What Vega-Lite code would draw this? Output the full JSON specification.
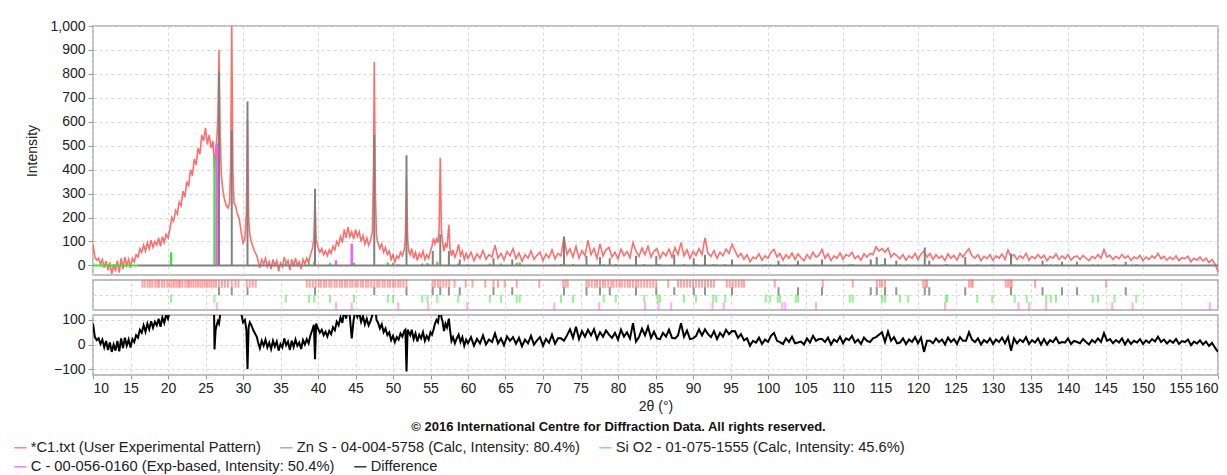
{
"$schema": "https://vega.github.io/schema/vega-lite/v6.json",
"padding": {"left": 13, "top": 18, "right": 0, "bottom": 0},
"spacing": 5,
"bounds": "flush",
"config": {
 "font": "Liberation Sans",
 "view": {"stroke": "#aaaaaa", "strokeWidth": 1.5},
 "axis": {"labelFont": "Liberation Sans", "labelFontSize": 14, "labelColor": "#222222", "titleFont": "Liberation Sans", "titleFontSize": 14, "titleFontWeight": "normal", "titleColor": "#222222", "gridColor": "#d6d6d6", "gridDash": [3, 3], "gridWidth": 1, "domain": false, "tickColor": "#999999", "tickSize": 5, "labelPadding": 3, "labelOverlap": false},
 "legend": {"orient": "none", "direction": "horizontal", "symbolType": "stroke", "symbolSize": 150, "symbolStrokeWidth": 1.2, "labelFont": "Liberation Sans", "labelFontSize": 14.7, "labelColor": "#222222", "labelLimit": 1000, "labelOffset": 3, "columnPadding": 16, "padding": 0},
 "title": {"font": "Liberation Sans"}
},
"resolve": {"scale": {"color": "shared", "stroke": "shared"}},
"datasets": {
"main": [
{"t":10,"e":88,"d":85},{"t":10.25,"e":35,"d":30},{"t":10.5,"e":22,"d":18},{"t":10.75,"e":30,"d":25},{"t":11,"e":5,"d":2},{"t":11.25,"e":25,"d":20},{"t":11.5,"e":-10,"d":-12},{"t":11.75,"e":18,"d":14},{"t":12,"e":-20,"d":-22},{"t":12.25,"e":12,"d":8},{"t":12.5,"e":-35,"d":-30},{"t":12.75,"e":5,"d":0},{"t":13,"e":-25,"d":-25},{"t":13.25,"e":20,"d":15},{"t":13.5,"e":-30,"d":-28},{"t":13.75,"e":30,"d":25},{"t":14,"e":-15,"d":-15},{"t":14.25,"e":35,"d":28},{"t":14.5,"e":0,"d":-5},{"t":14.75,"e":25,"d":20},{"t":15,"e":-10,"d":-12},{"t":15.25,"e":30,"d":22},{"t":15.5,"e":15,"d":10},{"t":15.75,"e":45,"d":38},{"t":16,"e":35,"d":28},{"t":16.25,"e":70,"d":60},{"t":16.5,"e":55,"d":48},{"t":16.75,"e":85,"d":78},{"t":17,"e":60,"d":52},{"t":17.25,"e":95,"d":85},{"t":17.5,"e":70,"d":62},{"t":17.75,"e":105,"d":95},{"t":18,"e":75,"d":68},{"t":18.25,"e":100,"d":92},{"t":18.5,"e":85,"d":78},{"t":18.75,"e":115,"d":105},{"t":19,"e":80,"d":72},{"t":19.25,"e":120,"d":110},{"t":19.5,"e":95,"d":88},{"t":19.75,"e":130,"d":120},
{"t":20,"e":115,"d":105},{"t":20.25,"e":150,"d":140},{"t":20.5,"e":200,"d":140},{"t":20.75,"e":185,"d":175},{"t":21,"e":230,"d":220},{"t":21.25,"e":215,"d":205},{"t":21.5,"e":265,"d":255},{"t":21.75,"e":250,"d":240},{"t":22,"e":310,"d":300},{"t":22.25,"e":285,"d":275},{"t":22.5,"e":350,"d":340},{"t":22.75,"e":330,"d":320},{"t":23,"e":400,"d":390},{"t":23.25,"e":375,"d":365},{"t":23.5,"e":445,"d":435},{"t":23.75,"e":420,"d":410},{"t":24,"e":490,"d":480},{"t":24.25,"e":465,"d":455},{"t":24.5,"e":545,"d":535},{"t":24.75,"e":520,"d":510},{"t":25,"e":575,"d":565},{"t":25.25,"e":505,"d":495},{"t":25.5,"e":545,"d":535},{"t":25.75,"e":490,"d":480},{"t":26,"e":520,"d":510},
{"t":26.2,"e":400,"d":-20},{"t":26.35,"e":480,"d":60},{"t":26.5,"e":520,"d":80},{"t":26.65,"e":620,"d":95},{"t":26.8,"e":900,"d":85},{"t":26.95,"e":560,"d":120},{"t":27.1,"e":380,"d":200},{"t":27.3,"e":320,"d":300},{"t":27.5,"e":280,"d":270},{"t":27.75,"e":250,"d":240},{"t":28,"e":240,"d":230},{"t":28.2,"e":260,"d":250},{"t":28.35,"e":420,"d":300},{"t":28.5,"e":1000,"d":430},{"t":28.65,"e":400,"d":300},{"t":28.8,"e":260,"d":250},{"t":29,"e":250,"d":240},{"t":29.25,"e":215,"d":205},{"t":29.5,"e":195,"d":185},{"t":29.75,"e":140,"d":130},{"t":30,"e":95,"d":90},{"t":30.25,"e":110,"d":100},{"t":30.45,"e":220,"d":60},{"t":30.6,"e":610,"d":-100},{"t":30.75,"e":200,"d":70},{"t":30.9,"e":130,"d":90},{"t":31.1,"e":100,"d":80},{"t":31.35,"e":75,"d":60},{"t":31.6,"e":55,"d":45},{"t":31.85,"e":40,"d":30},
{"t":32,"e":20,"d":10},{"t":32.25,"e":-10,"d":-15},{"t":32.5,"e":25,"d":15},{"t":32.75,"e":5,"d":-5},{"t":33,"e":30,"d":20},{"t":33.25,"e":-5,"d":-12},{"t":33.5,"e":15,"d":8},{"t":33.75,"e":-15,"d":-18},{"t":34,"e":25,"d":15},{"t":34.25,"e":0,"d":-8},{"t":34.5,"e":20,"d":12},{"t":34.75,"e":-25,"d":-25},{"t":35,"e":10,"d":2},{"t":35.25,"e":-5,"d":-12},{"t":35.5,"e":35,"d":25},{"t":35.75,"e":5,"d":-3},{"t":36,"e":20,"d":12},{"t":36.25,"e":-20,"d":-22},{"t":36.5,"e":25,"d":15},{"t":36.75,"e":-5,"d":-10},{"t":37,"e":30,"d":20},{"t":37.25,"e":0,"d":-5},{"t":37.5,"e":15,"d":8},{"t":37.75,"e":-15,"d":-18},{"t":38,"e":25,"d":18},{"t":38.25,"e":5,"d":0},{"t":38.5,"e":30,"d":22},{"t":38.75,"e":10,"d":5},{"t":39,"e":45,"d":38},{"t":39.25,"e":70,"d":60},{"t":39.45,"e":110,"d":80},{"t":39.6,"e":290,"d":-60},{"t":39.75,"e":110,"d":85},
{"t":40,"e":75,"d":65},{"t":40.25,"e":55,"d":48},{"t":40.5,"e":70,"d":60},{"t":40.75,"e":45,"d":38},{"t":41,"e":60,"d":52},{"t":41.25,"e":40,"d":32},{"t":41.5,"e":65,"d":55},{"t":41.75,"e":50,"d":42},{"t":42,"e":80,"d":70},{"t":42.25,"e":65,"d":58},{"t":42.5,"e":100,"d":92},{"t":42.75,"e":85,"d":78},{"t":43,"e":120,"d":110},{"t":43.25,"e":95,"d":88},{"t":43.5,"e":150,"d":140},{"t":43.75,"e":115,"d":105},{"t":44,"e":160,"d":150},{"t":44.25,"e":120,"d":112},{"t":44.5,"e":140,"d":25},{"t":44.75,"e":110,"d":100},{"t":45,"e":150,"d":140},{"t":45.25,"e":120,"d":112},{"t":45.5,"e":140,"d":130},{"t":45.75,"e":100,"d":92},{"t":46,"e":125,"d":115},{"t":46.25,"e":90,"d":82},{"t":46.5,"e":115,"d":105},{"t":46.75,"e":85,"d":78},{"t":47,"e":105,"d":95},{"t":47.25,"e":140,"d":120},{"t":47.4,"e":400,"d":200},{"t":47.5,"e":850,"d":300},{"t":47.65,"e":300,"d":150},{"t":47.8,"e":120,"d":100},
{"t":48,"e":95,"d":90},{"t":48.25,"e":70,"d":65},{"t":48.5,"e":90,"d":82},{"t":48.75,"e":55,"d":50},{"t":49,"e":75,"d":65},{"t":49.25,"e":45,"d":38},{"t":49.5,"e":60,"d":50},{"t":49.75,"e":25,"d":18},{"t":50,"e":45,"d":35},{"t":50.25,"e":15,"d":10},{"t":50.5,"e":40,"d":30},{"t":50.75,"e":30,"d":20},{"t":51,"e":55,"d":45},{"t":51.25,"e":40,"d":32},{"t":51.5,"e":65,"d":55},{"t":51.65,"e":120,"d":60},{"t":51.8,"e":370,"d":-110},{"t":51.95,"e":110,"d":60},{"t":52.1,"e":60,"d":50},{"t":52.3,"e":45,"d":38},{"t":52.5,"e":70,"d":60},{"t":52.75,"e":30,"d":22},{"t":53,"e":55,"d":45},{"t":53.25,"e":20,"d":12},{"t":53.5,"e":50,"d":40},{"t":53.75,"e":35,"d":25},{"t":54,"e":60,"d":50},{"t":54.25,"e":25,"d":15},{"t":54.5,"e":45,"d":35},{"t":54.75,"e":30,"d":20},{"t":55,"e":60,"d":50},{"t":55.2,"e":80,"d":40},{"t":55.4,"e":113,"d":60},{"t":55.6,"e":90,"d":85},{"t":55.8,"e":110,"d":100},{"t":56,"e":95,"d":90},{"t":56.15,"e":150,"d":120},{"t":56.3,"e":450,"d":300},{"t":56.45,"e":150,"d":110},{"t":56.6,"e":100,"d":95},{"t":56.8,"e":60,"d":55},{"t":57,"e":90,"d":85},{"t":57.2,"e":75,"d":70},{"t":57.45,"e":170,"d":105},{"t":57.6,"e":70,"d":60},{"t":57.8,"e":40,"d":15},{"t":58,"e":65,"d":30},{"t":58.25,"e":35,"d":5},{"t":58.5,"e":55,"d":25},{"t":58.75,"e":88,"d":40},{"t":59,"e":40,"d":10},{"t":59.25,"e":60,"d":30},{"t":59.5,"e":25,"d":-5},{"t":59.75,"e":50,"d":20},{"t":60,"e":30,"d":5},
{"t":60.4,"e":55,"d":30},{"t":60.8,"e":20,"d":-5},{"t":61.2,"e":48,"d":23},{"t":61.6,"e":30,"d":5},{"t":62,"e":62,"d":37},{"t":62.4,"e":25,"d":0},{"t":62.8,"e":45,"d":20},{"t":63.2,"e":35,"d":10},{"t":63.6,"e":85,"d":45},{"t":64,"e":30,"d":5},{"t":64.4,"e":50,"d":25},{"t":64.8,"e":22,"d":-3},{"t":65.2,"e":58,"d":33},{"t":65.6,"e":40,"d":15},{"t":66,"e":70,"d":30},{"t":66.4,"e":28,"d":3},{"t":66.8,"e":52,"d":27},{"t":67.2,"e":18,"d":-7},{"t":67.6,"e":45,"d":20},{"t":68,"e":30,"d":5},{"t":68.4,"e":60,"d":35},{"t":68.8,"e":25,"d":0},{"t":69.2,"e":42,"d":17},{"t":69.6,"e":55,"d":30},{"t":70,"e":20,"d":-5},{"t":70.4,"e":48,"d":23},{"t":70.8,"e":32,"d":7},{"t":71.2,"e":65,"d":40},{"t":71.6,"e":28,"d":3},{"t":72,"e":50,"d":25},{"t":72.4,"e":40,"d":25},{"t":72.8,"e":120,"d":15},{"t":73.2,"e":45,"d":37},{"t":73.6,"e":70,"d":62},{"t":74,"e":35,"d":27},{"t":74.4,"e":80,"d":72},{"t":74.8,"e":30,"d":22},{"t":75.2,"e":62,"d":54},{"t":75.6,"e":40,"d":32},{"t":76,"e":105,"d":60},{"t":76.4,"e":45,"d":37},{"t":76.8,"e":70,"d":62},{"t":77.2,"e":30,"d":22},{"t":77.6,"e":90,"d":50},{"t":78,"e":40,"d":32},{"t":78.4,"e":65,"d":57},{"t":78.8,"e":75,"d":40},{"t":79.2,"e":35,"d":27},{"t":79.6,"e":55,"d":47},
{"t":80,"e":28,"d":20},{"t":80.4,"e":68,"d":60},{"t":80.8,"e":40,"d":32},{"t":81.2,"e":58,"d":50},{"t":81.6,"e":32,"d":24},{"t":82,"e":95,"d":87},{"t":82.4,"e":60,"d":12},{"t":82.8,"e":38,"d":30},{"t":83.2,"e":72,"d":64},{"t":83.6,"e":45,"d":37},{"t":84,"e":80,"d":72},{"t":84.4,"e":35,"d":27},{"t":84.8,"e":60,"d":52},{"t":85.2,"e":70,"d":25},{"t":85.6,"e":30,"d":22},{"t":86,"e":55,"d":47},{"t":86.4,"e":40,"d":32},{"t":86.8,"e":68,"d":60},{"t":87.2,"e":35,"d":27},{"t":87.6,"e":75,"d":25},{"t":88,"e":45,"d":37},{"t":88.4,"e":95,"d":87},{"t":88.8,"e":40,"d":32},{"t":89.2,"e":65,"d":57},{"t":89.6,"e":30,"d":22},{"t":90,"e":58,"d":25},{"t":90.4,"e":42,"d":34},{"t":90.8,"e":70,"d":62},{"t":91.2,"e":45,"d":37},{"t":91.6,"e":115,"d":62},{"t":92,"e":50,"d":42},{"t":92.4,"e":38,"d":30},{"t":92.8,"e":62,"d":54},{"t":93.2,"e":30,"d":22},{"t":93.6,"e":55,"d":47},{"t":94,"e":40,"d":32},{"t":94.4,"e":68,"d":60},{"t":94.8,"e":50,"d":42},{"t":95.2,"e":88,"d":55},{"t":95.6,"e":62,"d":54},{"t":96,"e":35,"d":27},{"t":96.4,"e":50,"d":42},{"t":96.8,"e":25,"d":17},{"t":97.2,"e":45,"d":25},{"t":97.6,"e":15,"d":-5},{"t":98,"e":35,"d":15},{"t":98.4,"e":28,"d":8},{"t":98.8,"e":48,"d":28},{"t":99.2,"e":22,"d":2},{"t":99.6,"e":40,"d":20},
{"t":100,"e":30,"d":10},{"t":100.4,"e":55,"d":35},{"t":100.8,"e":67,"d":47},{"t":101.2,"e":35,"d":15},{"t":101.6,"e":50,"d":10},{"t":102,"e":22,"d":2},{"t":102.4,"e":45,"d":25},{"t":102.8,"e":30,"d":10},{"t":103.2,"e":52,"d":32},{"t":103.6,"e":25,"d":5},{"t":104,"e":48,"d":8},{"t":104.4,"e":32,"d":12},{"t":104.8,"e":20,"d":0},{"t":105.2,"e":45,"d":25},{"t":105.6,"e":28,"d":8},{"t":106,"e":55,"d":35},{"t":106.4,"e":35,"d":15},{"t":106.8,"e":42,"d":22},{"t":107.2,"e":67,"d":22},{"t":107.6,"e":30,"d":10},{"t":108,"e":48,"d":28},{"t":108.4,"e":20,"d":0},{"t":108.8,"e":40,"d":20},{"t":109.2,"e":30,"d":10},{"t":109.6,"e":52,"d":32},{"t":110,"e":25,"d":5},{"t":110.4,"e":45,"d":25},{"t":110.8,"e":38,"d":18},{"t":111.2,"e":55,"d":35},{"t":111.6,"e":28,"d":8},{"t":112,"e":40,"d":20},{"t":112.4,"e":22,"d":2},{"t":112.8,"e":48,"d":28},{"t":113.2,"e":35,"d":15},{"t":113.6,"e":50,"d":10},{"t":114,"e":45,"d":25},{"t":114.4,"e":77,"d":30},{"t":114.8,"e":60,"d":40},{"t":115.2,"e":70,"d":50},{"t":115.6,"e":55,"d":10},{"t":116,"e":72,"d":52},{"t":116.4,"e":35,"d":15},{"t":116.8,"e":50,"d":30},{"t":117.2,"e":40,"d":5},{"t":117.6,"e":28,"d":8},{"t":118,"e":45,"d":25},{"t":118.4,"e":22,"d":2},{"t":118.8,"e":40,"d":20},{"t":119.2,"e":30,"d":10},{"t":119.6,"e":50,"d":30},
{"t":120,"e":25,"d":5},{"t":120.4,"e":48,"d":28},{"t":120.8,"e":60,"d":-30},{"t":121.2,"e":35,"d":15},{"t":121.6,"e":50,"d":15},{"t":122,"e":25,"d":5},{"t":122.4,"e":45,"d":25},{"t":122.8,"e":30,"d":10},{"t":123.2,"e":40,"d":20},{"t":123.6,"e":20,"d":0},{"t":124,"e":48,"d":28},{"t":124.4,"e":30,"d":10},{"t":124.8,"e":42,"d":22},{"t":125.2,"e":22,"d":2},{"t":125.6,"e":50,"d":30},{"t":126,"e":35,"d":15},{"t":126.4,"e":55,"d":15},{"t":126.8,"e":70,"d":50},{"t":127.2,"e":40,"d":20},{"t":127.6,"e":30,"d":10},{"t":128,"e":45,"d":25},{"t":128.4,"e":20,"d":0},{"t":128.8,"e":38,"d":18},{"t":129.2,"e":28,"d":8},{"t":129.6,"e":45,"d":25},{"t":130,"e":22,"d":2},{"t":130.4,"e":40,"d":20},{"t":130.8,"e":30,"d":10},{"t":131.2,"e":48,"d":28},{"t":131.6,"e":25,"d":5},{"t":132,"e":64,"d":30},{"t":132.4,"e":35,"d":-25},{"t":132.8,"e":45,"d":25},{"t":133.2,"e":25,"d":5},{"t":133.6,"e":40,"d":20},{"t":134,"e":30,"d":10},{"t":134.4,"e":50,"d":30},{"t":134.8,"e":22,"d":2},{"t":135.2,"e":38,"d":18},{"t":135.6,"e":28,"d":8},{"t":136,"e":45,"d":25},{"t":136.4,"e":30,"d":0},{"t":136.8,"e":42,"d":22},{"t":137.2,"e":20,"d":0},{"t":137.6,"e":38,"d":18},{"t":138,"e":30,"d":10},{"t":138.4,"e":48,"d":28},{"t":138.8,"e":25,"d":5},{"t":139.2,"e":40,"d":10},{"t":139.6,"e":28,"d":8},
{"t":140,"e":45,"d":25},{"t":140.4,"e":22,"d":2},{"t":140.8,"e":35,"d":15},{"t":141.2,"e":40,"d":10},{"t":141.6,"e":25,"d":5},{"t":142,"e":42,"d":22},{"t":142.4,"e":30,"d":10},{"t":142.8,"e":20,"d":0},{"t":143.2,"e":38,"d":18},{"t":143.6,"e":28,"d":8},{"t":144,"e":45,"d":25},{"t":144.4,"e":30,"d":10},{"t":144.8,"e":66,"d":46},{"t":145.2,"e":35,"d":15},{"t":145.6,"e":42,"d":22},{"t":146,"e":25,"d":5},{"t":146.4,"e":38,"d":18},{"t":146.8,"e":28,"d":8},{"t":147.2,"e":45,"d":25},{"t":147.6,"e":30,"d":0},{"t":148,"e":40,"d":20},{"t":148.4,"e":22,"d":2},{"t":148.8,"e":35,"d":15},{"t":149.2,"e":28,"d":8},{"t":149.6,"e":42,"d":22},{"t":150,"e":20,"d":2},{"t":150.4,"e":35,"d":17},{"t":150.8,"e":25,"d":7},{"t":151.2,"e":40,"d":22},{"t":151.6,"e":30,"d":12},{"t":152,"e":50,"d":32},{"t":152.4,"e":28,"d":10},{"t":152.8,"e":38,"d":20},{"t":153.2,"e":22,"d":4},{"t":153.6,"e":35,"d":17},{"t":154,"e":25,"d":7},{"t":154.4,"e":40,"d":22},{"t":154.8,"e":20,"d":2},{"t":155.2,"e":32,"d":14},{"t":155.6,"e":28,"d":10},{"t":156,"e":38,"d":20},{"t":156.4,"e":15,"d":-3},{"t":156.8,"e":30,"d":12},{"t":157.2,"e":22,"d":4},{"t":157.6,"e":35,"d":17},{"t":158,"e":18,"d":0},{"t":158.4,"e":30,"d":12},{"t":158.8,"e":12,"d":-6},{"t":159.2,"e":25,"d":7},{"t":159.6,"e":5,"d":-13},{"t":160,"e":-25,"d":-30}
],
"peaks": [
{"s":"exp","t":16.6},{"s":"exp","t":16.9},{"s":"exp","t":17.3},{"s":"exp","t":17.6},{"s":"exp","t":17.9},{"s":"exp","t":18.3},{"s":"exp","t":18.6},{"s":"exp","t":18.8},{"s":"exp","t":19.2},{"s":"exp","t":19.5},{"s":"exp","t":19.9},{"s":"exp","t":20.2},{"s":"exp","t":20.5},{"s":"exp","t":20.8},{"s":"exp","t":21.1},{"s":"exp","t":21.4},{"s":"exp","t":21.6},{"s":"exp","t":21.9},{"s":"exp","t":22.3},{"s":"exp","t":22.6},{"s":"exp","t":22.8},{"s":"exp","t":23.1},{"s":"exp","t":23.4},{"s":"exp","t":23.7},{"s":"exp","t":24},{"s":"exp","t":24.3},{"s":"exp","t":24.6},{"s":"exp","t":24.9},{"s":"exp","t":25.2},{"s":"exp","t":25.5},{"s":"exp","t":25.8},{"s":"exp","t":26.1},{"s":"exp","t":26.4},{"s":"exp","t":26.8},{"s":"exp","t":27.2},{"s":"exp","t":27.6},{"s":"exp","t":28},{"s":"exp","t":28.5},{"s":"exp","t":29},{"s":"exp","t":29.4},{"s":"exp","t":30.5},{"s":"exp","t":30.9},{"s":"exp","t":31.3},{"s":"exp","t":31.7},
{"s":"exp","t":38.5},{"s":"exp","t":38.9},{"s":"exp","t":39.3},{"s":"exp","t":39.7},{"s":"exp","t":40.1},{"s":"exp","t":40.4},{"s":"exp","t":40.8},{"s":"exp","t":41.1},{"s":"exp","t":41.5},{"s":"exp","t":41.8},{"s":"exp","t":42.2},{"s":"exp","t":42.5},{"s":"exp","t":42.9},{"s":"exp","t":43.2},{"s":"exp","t":43.6},{"s":"exp","t":43.9},{"s":"exp","t":44.3},{"s":"exp","t":44.6},{"s":"exp","t":45},{"s":"exp","t":45.3},{"s":"exp","t":45.7},{"s":"exp","t":46},{"s":"exp","t":46.4},{"s":"exp","t":46.7},{"s":"exp","t":47.1},{"s":"exp","t":47.5},{"s":"exp","t":47.9},{"s":"exp","t":48.2},{"s":"exp","t":48.6},{"s":"exp","t":48.9},{"s":"exp","t":49.3},{"s":"exp","t":49.6},{"s":"exp","t":50},{"s":"exp","t":50.3},{"s":"exp","t":50.7},{"s":"exp","t":51},{"s":"exp","t":51.4},{"s":"exp","t":51.8},
{"s":"exp","t":55.3},{"s":"exp","t":55.6},{"s":"exp","t":56},{"s":"exp","t":56.3},{"s":"exp","t":56.7},{"s":"exp","t":57.1},{"s":"exp","t":57.5},{"s":"exp","t":58.2},{"s":"exp","t":59.7},{"s":"exp","t":60.6},{"s":"exp","t":62.3},{"s":"exp","t":63.4},{"s":"exp","t":64},{"s":"exp","t":64.9},{"s":"exp","t":66.5},{"s":"exp","t":69.5},{"s":"exp","t":72.7},{"s":"exp","t":73},{"s":"exp","t":73.3},
{"s":"exp","t":75.8},{"s":"exp","t":76.1},{"s":"exp","t":76.5},{"s":"exp","t":76.9},{"s":"exp","t":77.2},{"s":"exp","t":77.6},{"s":"exp","t":78},{"s":"exp","t":78.3},{"s":"exp","t":78.7},{"s":"exp","t":79.1},{"s":"exp","t":79.4},{"s":"exp","t":79.8},{"s":"exp","t":80.2},{"s":"exp","t":80.5},{"s":"exp","t":80.9},{"s":"exp","t":81.3},{"s":"exp","t":81.6},{"s":"exp","t":82},{"s":"exp","t":82.4},{"s":"exp","t":82.7},{"s":"exp","t":83.1},{"s":"exp","t":83.5},{"s":"exp","t":83.9},{"s":"exp","t":84.3},{"s":"exp","t":84.7},{"s":"exp","t":85.1},{"s":"exp","t":86.7},{"s":"exp","t":88},{"s":"exp","t":88.4},{"s":"exp","t":88.8},{"s":"exp","t":89.2},{"s":"exp","t":89.6},{"s":"exp","t":90},{"s":"exp","t":90.4},{"s":"exp","t":90.8},{"s":"exp","t":91.2},{"s":"exp","t":91.6},{"s":"exp","t":92},{"s":"exp","t":92.4},{"s":"exp","t":92.8},{"s":"exp","t":94.5},{"s":"exp","t":94.9},{"s":"exp","t":95.3},{"s":"exp","t":95.7},{"s":"exp","t":96.1},{"s":"exp","t":96.5},{"s":"exp","t":96.8},{"s":"exp","t":100.9},{"s":"exp","t":107.3},{"s":"exp","t":111.3},{"s":"exp","t":114.5},{"s":"exp","t":114.9},{"s":"exp","t":115.2},{"s":"exp","t":115.6},{"s":"exp","t":120.7},{"s":"exp","t":121},{"s":"exp","t":121.2},{"s":"exp","t":126.8},{"s":"exp","t":127.1},{"s":"exp","t":127.3},{"s":"exp","t":131.7},{"s":"exp","t":132},{"s":"exp","t":132.3},{"s":"exp","t":132.5},{"s":"exp","t":135.6},{"s":"exp","t":145.1},
{"s":"zns","t":26.8,"h":810},{"s":"zns","t":28.5,"h":565},{"s":"zns","t":30.6,"h":685},{"s":"zns","t":39.6,"h":320},{"s":"zns","t":47.5,"h":545},{"s":"zns","t":51.8,"h":460},{"s":"zns","t":55.3,"h":60},{"s":"zns","t":56.3,"h":130},{"s":"zns","t":57.45,"h":60},{"s":"zns","t":58.9,"h":25},{"s":"zns","t":63.4,"h":30},{"s":"zns","t":65.9,"h":25},{"s":"zns","t":72.8,"h":120},{"s":"zns","t":75.8,"h":40},{"s":"zns","t":77.6,"h":35},{"s":"zns","t":78.9,"h":30},{"s":"zns","t":82.4,"h":40},{"s":"zns","t":85.1,"h":40},{"s":"zns","t":87.5,"h":45},{"s":"zns","t":90.1,"h":30},{"s":"zns","t":91.6,"h":45},{"s":"zns","t":95.2,"h":25},{"s":"zns","t":101.4,"h":20},{"s":"zns","t":104,"h":20},{"s":"zns","t":107.2,"h":25},{"s":"zns","t":113.7,"h":25},{"s":"zns","t":114.5,"h":35},{"s":"zns","t":115.6,"h":30},{"s":"zns","t":117.1,"h":20},{"s":"zns","t":120.9,"h":75},{"s":"zns","t":121.5,"h":20},{"s":"zns","t":126.3,"h":35},{"s":"zns","t":132.4,"h":50},{"s":"zns","t":136.6,"h":20},{"s":"zns","t":139.2,"h":15},{"s":"zns","t":141.2,"h":15},{"s":"zns","t":147.7,"h":15},
{"s":"sio2","t":20.4,"h":55},{"s":"sio2","t":26.2,"h":460},{"s":"sio2","t":35.7,"h":10},{"s":"sio2","t":38.8,"h":10},{"s":"sio2","t":39.5,"h":15},{"s":"sio2","t":41.6,"h":10},{"s":"sio2","t":44.8,"h":12},{"s":"sio2","t":49.3,"h":12},{"s":"sio2","t":50,"h":10},{"s":"sio2","t":53.9,"h":8},{"s":"sio2","t":54.6,"h":10},{"s":"sio2","t":55.9,"h":15},{"s":"sio2","t":58.7,"h":8},{"s":"sio2","t":62.9,"h":8},{"s":"sio2","t":64.4,"h":8},{"s":"sio2","t":66.5,"h":10},{"s":"sio2","t":66.9,"h":12},{"s":"sio2","t":72.4,"h":6},{"s":"sio2","t":74,"h":6},{"s":"sio2","t":78.1,"h":5},{"s":"sio2","t":79.7,"h":6},{"s":"sio2","t":83.5,"h":6},{"s":"sio2","t":85.3,"h":5},{"s":"sio2","t":85.6,"h":5},{"s":"sio2","t":88.8,"h":5},{"s":"sio2","t":90.4,"h":5},{"s":"sio2","t":92.7,"h":5},{"s":"sio2","t":93.1,"h":5},{"s":"sio2","t":94.3,"h":5},{"s":"sio2","t":99.7,"h":4},{"s":"sio2","t":100.3,"h":4},{"s":"sio2","t":101.3,"h":4},{"s":"sio2","t":101.6,"h":4},{"s":"sio2","t":103.7,"h":4},{"s":"sio2","t":104,"h":4},{"s":"sio2","t":110.9,"h":5},{"s":"sio2","t":111.3,"h":5},{"s":"sio2","t":115.2,"h":5},{"s":"sio2","t":115.6,"h":5},{"s":"sio2","t":117.6,"h":4},{"s":"sio2","t":118.7,"h":4},{"s":"sio2","t":123.7,"h":5},{"s":"sio2","t":123.9,"h":5},{"s":"sio2","t":127.9,"h":4},{"s":"sio2","t":129.9,"h":4},{"s":"sio2","t":132.9,"h":4},{"s":"sio2","t":134.5,"h":4},{"s":"sio2","t":137.1,"h":4},{"s":"sio2","t":137.7,"h":4},{"s":"sio2","t":138.4,"h":4},{"s":"sio2","t":143.3,"h":4},{"s":"sio2","t":144,"h":4},{"s":"sio2","t":146.2,"h":5},{"s":"sio2","t":149.1,"h":5},
{"s":"c","t":26.5,"h":510},{"s":"c","t":42.4,"h":21},{"s":"c","t":44.5,"h":90},{"s":"c","t":50.7,"h":4},{"s":"c","t":54.7,"h":4},{"s":"c","t":59.9,"h":4},{"s":"c","t":71.5,"h":3},{"s":"c","t":77.5,"h":3},{"s":"c","t":83.6,"h":3},{"s":"c","t":85.4,"h":3},{"s":"c","t":87.1,"h":3},{"s":"c","t":92.6,"h":3},{"s":"c","t":94.1,"h":3},{"s":"c","t":101.9,"h":3},{"s":"c","t":102.3,"h":3},{"s":"c","t":106.4,"h":3},{"s":"c","t":123.6,"h":3},{"s":"c","t":133.4,"h":3},{"s":"c","t":134.8,"h":3},{"s":"c","t":137.1,"h":3},{"s":"c","t":145.9,"h":3},{"s":"c","t":148.6,"h":3},{"s":"c","t":158.9,"h":3}
]
},
"vconcat": [
{
 "width": 1125, "height": 249,
 "layer": [
  {
   "data": {"name": "main"},
   "mark": {"type": "line", "clip": true, "strokeWidth": 1.6, "opacity": 0.82},
   "encoding": {
    "x": {"field": "t", "type": "quantitative", "scale": {"domain": [10, 160], "nice": false, "zero": false}, "axis": {"values": [10,15,20,25,30,35,40,45,50,55,60,65,70,75,80,85,90,95,100,105,110,115,120,125,130,135,140,145,150,155,160], "grid": true, "labels": false, "ticks": false, "domain": false, "title": null}},
    "y": {"field": "e", "type": "quantitative", "scale": {"domain": [-40, 1000], "nice": false, "zero": false}, "axis": {"values": [0,100,200,300,400,500,600,700,800,900,1000], "format": ",d", "grid": true, "labelOverlap": false, "title": "Intensity", "titlePadding": 10}},
    "color": {"datum": "exp", "type": "nominal", "title": null, "scale": {"domain": ["exp","zns","sio2"], "range": ["#ff4d4d","#808080","#2ee82e"]},
     "legend": {"title": null, "orient": "none", "legendX": -80, "legendY": 414, "direction": "horizontal",
      "labelExpr": "datum.value=='exp'?'*C1.txt (User Experimental Pattern)':datum.value=='zns'?'Zn S - 04-004-5758 (Calc, Intensity: 80.4%)':'Si O2 - 01-075-1555 (Calc, Intensity: 45.6%)'"}}
   }
  },
  {
   "data": {"values": [{}]},
   "mark": {"type": "rule", "strokeWidth": 2},
   "encoding": {"x": {"datum": 10}, "x2": {"datum": 16},
    "y": {"datum": 0, "axis": {"values": [0,100,200,300,400,500,600,700,800,900,1000], "format": ",d", "grid": true, "labelOverlap": false, "title": "Intensity", "titlePadding": 10}},
    "color": {"datum": "sio2", "type": "nominal", "title": null}}
  },
  {
   "data": {"name": "peaks"},
   "transform": [{"filter": "datum.s=='sio2'"}],
   "mark": {"type": "rule", "strokeWidth": 2.2},
   "encoding": {"x": {"field": "t", "type": "quantitative"},
    "y": {"field": "h", "type": "quantitative", "axis": {"values": [0,100,200,300,400,500,600,700,800,900,1000], "format": ",d", "grid": true, "labelOverlap": false, "title": "Intensity", "titlePadding": 10}},
    "y2": {"datum": 0}, "color": {"field": "s", "type": "nominal", "title": null}}
  },
  {
   "data": {"name": "peaks"},
   "transform": [{"filter": "datum.s=='c'"}],
   "mark": {"type": "rule", "strokeWidth": 2.4},
   "encoding": {"x": {"field": "t", "type": "quantitative"},
    "y": {"field": "h", "type": "quantitative", "axis": {"values": [0,100,200,300,400,500,600,700,800,900,1000], "format": ",d", "grid": true, "labelOverlap": false, "title": "Intensity", "titlePadding": 10}},
    "y2": {"datum": 0},
    "stroke": {"field": "s", "type": "nominal", "title": null, "scale": {"domain": ["c","diff"], "range": ["#ff55ff","#000000"]},
     "legend": {"title": null, "orient": "none", "legendX": -80, "legendY": 433, "direction": "horizontal",
      "labelExpr": "datum.value=='c'?'C - 00-056-0160 (Exp-based, Intensity: 50.4%)':'Difference'"}}}
  },
  {
   "data": {"values": [{}]},
   "mark": {"type": "rule", "strokeWidth": 2},
   "encoding": {"x": {"datum": 16}, "x2": {"datum": 160},
    "y": {"datum": 0, "axis": {"values": [0,100,200,300,400,500,600,700,800,900,1000], "format": ",d", "grid": true, "labelOverlap": false, "title": "Intensity", "titlePadding": 10}},
    "color": {"datum": "zns", "type": "nominal", "title": null}}
  },
  {
   "data": {"name": "peaks"},
   "transform": [{"filter": "datum.s=='zns'"}],
   "mark": {"type": "rule", "strokeWidth": 2},
   "encoding": {"x": {"field": "t", "type": "quantitative"},
    "y": {"field": "h", "type": "quantitative", "axis": {"values": [0,100,200,300,400,500,600,700,800,900,1000], "format": ",d", "grid": true, "labelOverlap": false, "title": "Intensity", "titlePadding": 10}},
    "y2": {"datum": 0}, "color": {"field": "s", "type": "nominal", "title": null}}
  }
 ]
},
{
 "width": 1125, "height": 30,
 "data": {"name": "peaks"},
 "encoding": {
  "x": {"field": "t", "type": "quantitative", "scale": {"domain": [10, 160], "nice": false, "zero": false}, "axis": {"values": [10,15,20,25,30,35,40,45,50,55,60,65,70,75,80,85,90,95,100,105,110,115,120,125,130,135,140,145,150,155,160], "grid": true, "labels": false, "ticks": false, "domain": false, "title": null}},
  "y": {"field": "s", "type": "nominal", "scale": {"domain": ["exp","zns","sio2","c"], "paddingInner": 0, "paddingOuter": 0}, "axis": {"values": ["sio2"], "bandPosition": 0, "grid": true, "labels": false, "ticks": false, "domain": false, "title": null}}
 },
 "layer": [
  {
   "transform": [{"filter": "datum.s!='c'"}],
   "mark": {"type": "tick", "thickness": 2, "size": 8},
   "encoding": {
    "color": {"field": "s", "type": "nominal", "title": null},
    "opacity": {"condition": {"test": "datum.s=='zns'", "value": 0.85}, "value": 0.5}
   }
  },
  {
   "transform": [{"filter": "datum.s=='c'"}],
   "mark": {"type": "tick", "thickness": 2, "size": 8, "color": "#ff55ff", "opacity": 0.5}
  }
 ]
},
{
 "width": 1125, "height": 60,
 "data": {"name": "main"},
 "title": {"text": "© 2016 International Centre for Diffraction Data. All rights reserved.", "orient": "bottom", "anchor": "middle", "fontSize": 13, "fontWeight": "bold", "color": "#111111", "offset": 8, "dx": -37},
 "mark": {"type": "line", "clip": true, "strokeWidth": 2},
 "encoding": {
  "x": {"field": "t", "type": "quantitative", "scale": {"domain": [10, 160], "nice": false, "zero": false}, "axis": {"values": [10,15,20,25,30,35,40,45,50,55,60,65,70,75,80,85,90,95,100,105,110,115,120,125,130,135,140,145,150,155,160], "grid": true, "title": "2θ (°)", "tickSize": 4, "labelPadding": 2, "titlePadding": 4}},
  "y": {"field": "d", "type": "quantitative", "scale": {"domain": [-124, 120], "nice": false, "zero": false}, "axis": {"values": [-100, 0, 100], "grid": true, "labelOverlap": false, "title": null}},
  "stroke": {"datum": "diff", "type": "nominal", "title": null}
 }
}
]
}
